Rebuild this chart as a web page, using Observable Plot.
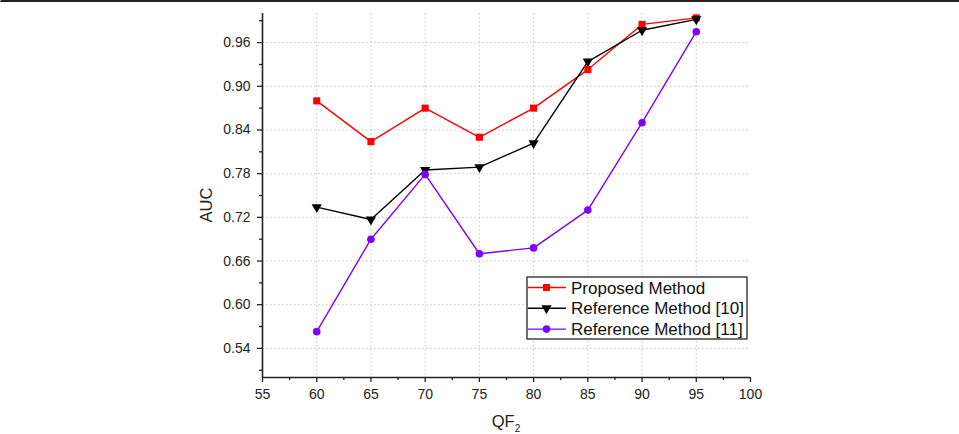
<!DOCTYPE html>
<html><head><meta charset="utf-8">
<script src="https://cdn.jsdelivr.net/npm/d3@7"></script>
<script src="https://cdn.jsdelivr.net/npm/@observablehq/plot@0.6"></script>
<style>
body{margin:0;background:#fff;font-family:"Liberation Sans",Arial,sans-serif;}
#chart{position:relative;width:959px;height:434px;}
#topline{position:absolute;left:0;top:0;width:959px;height:2px;background:#222;border-top-left-radius:4px;}
</style></head><body><div id="chart"></div><div id="topline"></div>
<script>
const qf = [60, 65, 70, 75, 80, 85, 90, 95];
const proposed = [0.880, 0.824, 0.870, 0.830, 0.870, 0.923, 0.985, 0.994];
const ref10 = [0.734, 0.717, 0.785, 0.789, 0.822, 0.934, 0.977, 0.992];
const ref11 = [0.563, 0.690, 0.779, 0.670, 0.678, 0.730, 0.850, 0.975];
const seriesNames = ["Proposed Method", "Reference Method [10]", "Reference Method [11]"];
const seriesColors = ["#ff0000", "#000000", "#8000ff"];
const xTicks = [55, 60, 65, 70, 75, 80, 85, 90, 95, 100];
const xMinor = [57.5, 62.5, 67.5, 72.5, 77.5, 82.5, 87.5, 92.5, 97.5];
const xGrid = [60, 65, 70, 75, 80, 85, 90, 95];
const yTicks = [0.54, 0.60, 0.66, 0.72, 0.78, 0.84, 0.90, 0.96];
const yMinor = [0.51, 0.57, 0.63, 0.69, 0.75, 0.81, 0.87, 0.93, 0.99];
const xLabel = "QF";
const xLabelSub = "2";
const yLabel = "AUC";

const seriesValues = [proposed, ref10, ref11];
const rows = [];
seriesNames.forEach((name, si) => qf.forEach((q, i) => rows.push({series: name, qf: q, auc: seriesValues[si][i]})));
const colorOf = name => seriesColors[seriesNames.indexOf(name)];

const W = 959, H = 434;
const gridStyle = {stroke: "#c4c4c4", strokeOpacity: 1, strokeWidth: 1, strokeDasharray: "1.5,2.5"};
const axisFont = {fontSize: 14, fill: "#222"};

const plot = Plot.plot({
  width: W, height: H,
  marginLeft: 262, marginRight: 209, marginTop: 13, marginBottom: 57,
  style: {fontFamily: '"Liberation Sans", Arial, sans-serif', background: "#fff", overflow: "visible"},
  x: {domain: [55, 100]},
  y: {domain: [0.5, 1.0]},
  marks: [
    Plot.gridY(yTicks, gridStyle),
    Plot.gridX(xGrid, gridStyle),
    Plot.axisY(yTicks, {tickSize: 5, tickPadding: 7, tickFormat: d => d.toFixed(2), label: null, stroke: "#222", strokeWidth: 1.3, ...axisFont}),
    Plot.axisY(yMinor, {tickSize: 3, tickFormat: () => "", label: null, stroke: "#222", strokeWidth: 1.3}),
    Plot.axisX(xTicks, {tickSize: 5, tickPadding: 7, tickFormat: d => String(d), label: null, stroke: "#222", strokeWidth: 1.3, ...axisFont}),
    Plot.axisX(xMinor, {tickSize: 3, tickFormat: () => "", label: null, stroke: "#222", strokeWidth: 1.3}),
    Plot.ruleX([55], {stroke: "#222", strokeWidth: 1.6}),
    Plot.ruleY([0.5], {stroke: "#222", strokeWidth: 1.6}),
    Plot.line(rows, {x: "qf", y: "auc", z: "series", stroke: d => colorOf(d.series), strokeWidth: 1.4}),
    Plot.dot(rows.filter(d => d.series === seriesNames[0]), {x: "qf", y: "auc", symbol: "square", r: 4, fill: seriesColors[0], stroke: null}),
    Plot.dot(rows.filter(d => d.series === seriesNames[1]), {x: "qf", y: "auc", symbol: "triangle", rotate: 180, r: 3.8, fill: seriesColors[1], stroke: null}),
    Plot.dot(rows.filter(d => d.series === seriesNames[2]), {x: "qf", y: "auc", symbol: "circle", r: 3.8, fill: seriesColors[2], stroke: null})
  ]
});
document.getElementById("chart").appendChild(plot);

const svg = d3.select(plot);
const xs = plot.scale("x"), ys = plot.scale("y");
// axis labels
svg.append("text")
  .attr("transform", `translate(211.5,${(ys.apply(0.5) + ys.apply(1.0)) / 2 + 10}) rotate(-90)`)
  .attr("text-anchor", "middle").attr("font-size", 16.5).attr("fill", "#222")
  .text(yLabel);
const xl = svg.append("text")
  .attr("x", (xs.apply(55) + xs.apply(100)) / 2).attr("y", 427)
  .attr("text-anchor", "middle").attr("font-size", 16.5).attr("fill", "#222");
xl.append("tspan").text(xLabel);
xl.append("tspan").attr("font-size", 10).attr("dy", 5).text(xLabelSub);

// legend
const lx = 527, ly = 277, lw = 220, lh = 62;
const lg = svg.append("g").attr("text-anchor", "start");
lg.append("rect").attr("x", lx).attr("y", ly).attr("width", lw).attr("height", lh)
  .attr("fill", "#fff").attr("stroke", "#111").attr("stroke-width", 1.2);
const symbols = [d3.symbolSquare, d3.symbolTriangle, d3.symbolCircle];
const symR = [4, 3.8, 3.8];
seriesNames.forEach((name, i) => {
  const cy = ly + 10.5 + i * 20.8;
  lg.append("line").attr("x1", lx + 1).attr("x2", lx + 39).attr("y1", cy).attr("y2", cy)
    .attr("stroke", seriesColors[i]).attr("stroke-width", 1.4);
  lg.append("path").attr("d", d3.symbol(symbols[i], Math.PI * symR[i] * symR[i])())
    .attr("transform", `translate(${lx + 19.5},${cy})` + (i === 1 ? " rotate(180)" : ""))
    .attr("fill", seriesColors[i]);
  lg.append("text").attr("x", lx + 44).attr("y", cy).attr("dy", "0.36em")
    .attr("text-anchor", "start")
    .attr("font-size", 17).attr("fill", "#111").text(name);
});
</script></body></html>
